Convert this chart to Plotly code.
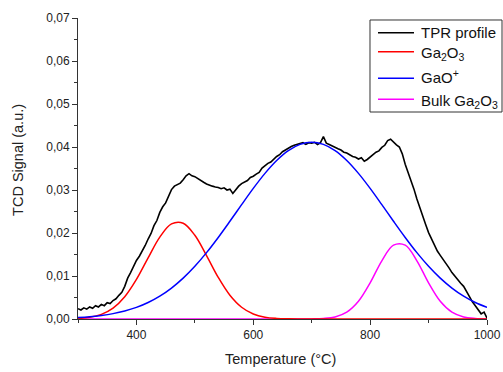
import plotly.graph_objects as go

# Measured TPR profile, sampled every 5 °C from 300 to 1000 °C
temp_profile = list(range(300, 1001, 5))
tpr_profile = [
    0.0024, 0.0021, 0.0026, 0.0023, 0.0028, 0.0025, 0.0031, 0.0028, 0.0034, 0.0031,
    0.0038, 0.0036, 0.0043, 0.0047, 0.0055, 0.0062, 0.0076, 0.0095, 0.0108, 0.0122,
    0.0136, 0.0146, 0.0158, 0.0171, 0.0186, 0.0199, 0.0217, 0.0229, 0.0248, 0.0261,
    0.0270, 0.0284, 0.0301, 0.0309, 0.0313, 0.0316, 0.0324, 0.0333, 0.0338, 0.0333,
    0.0331, 0.0326, 0.0322, 0.0318, 0.0314, 0.0311, 0.0309, 0.0307, 0.0306, 0.0303,
    0.0305, 0.0300, 0.0302, 0.0292, 0.0301, 0.0309, 0.0315, 0.0318, 0.0322, 0.0329,
    0.0332, 0.0337, 0.0341, 0.0351, 0.0357, 0.0362, 0.0365, 0.0372, 0.0378, 0.0382,
    0.0389, 0.0393, 0.0398, 0.0401, 0.0404, 0.0406, 0.0407, 0.0410, 0.0406, 0.0410,
    0.0409, 0.0411, 0.0406, 0.0410, 0.0424, 0.0409, 0.0406, 0.0402, 0.0399, 0.0396,
    0.0393, 0.0388, 0.0386, 0.0381, 0.0378, 0.0376, 0.0372, 0.0375, 0.0367, 0.0371,
    0.0377, 0.0384, 0.0388, 0.0391, 0.0399, 0.0404, 0.0415, 0.0418, 0.0411, 0.0405,
    0.0400, 0.0384, 0.0360, 0.0342, 0.0323, 0.0302, 0.0279, 0.0258, 0.0238, 0.0220,
    0.0201, 0.0186, 0.0171, 0.0158, 0.0148, 0.0139, 0.0128, 0.0119, 0.0108, 0.0099,
    0.0090, 0.0083, 0.0076, 0.0063, 0.0051, 0.0040, 0.0031, 0.0022, 0.0012, 0.0016,
    0.0002,
]

# Deconvoluted components, sampled every 20 °C
temp_fit = list(range(300, 1001, 20))
ga2o3 = [
    0.00012, 0.00039, 0.00107, 0.00252, 0.00518, 0.00921, 0.01422, 0.01905, 0.02212, 0.02228,
    0.01946, 0.01474, 0.00968, 0.00552, 0.00273, 0.00117, 0.00043, 0.00014, 0.00004, 0.00001,
    0, 0, 0, 0, 0, 0, 0, 0, 0, 0, 0, 0, 0, 0, 0, 0,
]
gao_plus = [
    0.00033, 0.00052, 0.00082, 0.00125, 0.00186, 0.00270, 0.00384, 0.00532, 0.00720, 0.00951,
    0.01226, 0.01543, 0.01896, 0.02272, 0.02659, 0.03038, 0.03387, 0.03686, 0.03916, 0.04061,
    0.04110, 0.04061, 0.03916, 0.03686, 0.03387, 0.03038, 0.02659, 0.02272, 0.01896, 0.01543,
    0.01226, 0.00951, 0.00720, 0.00532, 0.00384, 0.00270,
]
bulk_ga2o3 = [
    0, 0, 0, 0, 0, 0, 0, 0, 0, 0, 0, 0, 0, 0, 0, 0, 0, 0, 0, 0,
    0.00002, 0.00012, 0.00048, 0.00159, 0.00412, 0.00841, 0.01354, 0.01718, 0.01718, 0.01354,
    0.00841, 0.00412, 0.00159, 0.00048, 0.00012, 0.00002,
]

series_names = ["TPR profile", "Ga<sub>2</sub>O<sub>3</sub>", "GaO<sup>+</sup>",
                "Bulk Ga<sub>2</sub>O<sub>3</sub>"]
series_colors = ["#000000", "#ff0000", "#0000ff", "#ff00ff"]

FONT = "Liberation Sans, Arial, sans-serif"

fig = go.Figure()
# drawing order: components first, measured profile, then GaO+ on top
fig.add_trace(go.Scatter(x=temp_fit, y=bulk_ga2o3, mode="lines", line_shape="spline",
                         name=series_names[3], line=dict(color=series_colors[3], width=1.5)))
fig.add_trace(go.Scatter(x=temp_fit, y=ga2o3, mode="lines", line_shape="spline",
                         name=series_names[1], line=dict(color=series_colors[1], width=1.5)))
fig.add_trace(go.Scatter(x=temp_profile, y=tpr_profile, mode="lines",
                         name=series_names[0], line=dict(color=series_colors[0], width=1.6)))
fig.add_trace(go.Scatter(x=temp_fit, y=gao_plus, mode="lines", line_shape="spline",
                         name=series_names[2], line=dict(color=series_colors[2], width=1.5)))

# Boxed legend in the upper-right corner (paper coordinates, may reach into the margin)
legend_box = dict(x0=0.7139, x1=1.0367, y0=0.6877, y1=0.9934)
legend_rows = [0.9512, 0.8880, 0.7997, 0.7299]
legend_text_shift = [0, -2, 2, -2]
shapes = [dict(type="rect", xref="paper", yref="paper", layer="above",
               line=dict(color="#333333", width=1), fillcolor="white", **legend_box)]
annotations = []
for name, color, yrow, shift in zip(series_names, series_colors, legend_rows, legend_text_shift):
    shapes.append(dict(type="line", xref="paper", yref="paper", layer="above",
                       x0=0.7335, x1=0.8215, y0=yrow, y1=yrow,
                       line=dict(color=color, width=1.5)))
    annotations.append(dict(text=name, xref="paper", yref="paper", x=0.8337, y=yrow,
                            xanchor="left", yanchor="middle", showarrow=False, yshift=shift,
                            font=dict(family=FONT, size=15, color="#111111")))

annotations += [
    dict(text="Temperature (°C)", xref="paper", yref="paper",
         x=0.495, y=-0.133, xanchor="center", yanchor="middle", showarrow=False,
         font=dict(family=FONT, size=14.5, color="#222222")),
    dict(text="TCD Signal (a.u.)", xref="paper", yref="paper",
         x=-0.147, y=0.528, xanchor="center", yanchor="middle", showarrow=False,
         textangle=-90, font=dict(family=FONT, size=14.5, color="#222222")),
]

axis_common = dict(
    showgrid=False, zeroline=False, showline=True, linecolor="#333333", linewidth=1,
    ticks="outside", ticklen=5, tickwidth=1, tickcolor="#333333",
    tickfont=dict(family=FONT, size=12, color="#222222"),
    layer="below traces", automargin=False,
)

fig.update_layout(
    width=503, height=372,
    margin=dict(l=78, r=16, t=18, b=53),
    paper_bgcolor="white", plot_bgcolor="white",
    separators=",.",
    font=dict(family=FONT, color="#222222"),
    showlegend=False,
    xaxis=dict(
        axis_common, range=[300, 1000], dtick=200, tick0=0,
        minor=dict(ticks="outside", dtick=100, ticklen=3, tickcolor="#333333"),
    ),
    yaxis=dict(
        axis_common, range=[0, 0.07], dtick=0.01, tickformat=".2f",
        minor=dict(ticks="outside", dtick=0.005, ticklen=3, tickcolor="#333333"),
    ),
    shapes=shapes,
    annotations=annotations,
)

fig.write_html("out.html")
